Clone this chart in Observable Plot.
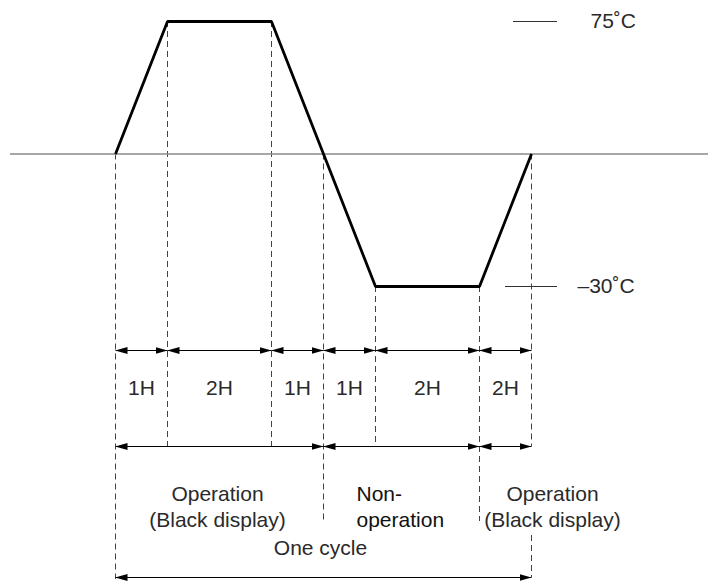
<!DOCTYPE html>
<html><head><meta charset="utf-8">
<script src="https://cdn.jsdelivr.net/npm/d3@7"></script>
<script src="https://cdn.jsdelivr.net/npm/@observablehq/plot@0.6"></script>
<style>body{margin:0;background:#fff} #chart svg{display:block;background:#fff}</style>
</head><body><div id="chart"></div>
<script>
// ---- data ----
const hours = [0, 1, 3, 4, 5, 7, 8];          // break points of the profile (as drawn)
const temps = [0, 75, 75, 0, -30, -30, 0];    // temperature at each break point (°C)
const stepLabels = ["1H", "2H", "1H", "1H", "2H", "2H"];
const phaseStart = [0, 4, 7];
const phaseEnd = [4, 7, 8];
const phaseLabels = ["Operation\n(Black display)", "Non-\noperation", "Operation\n(Black display)"];
const cycleLabel = "One cycle";
const levelTemps = [75, -30];
const levelLabels = ["75˚C", "–30˚C"];

// ---- layout ----
const W = 708, H = 581;
const tMax = 75, tMin = -30;                      // schematic: each side drawn at the same height
const toLevel = t => t < 0 ? -t / tMin : t / tMax;
const fromLevel = u => u < 0 ? -u * tMin : u * tMax;
const xDomain = [0, 8], xRange = [115, 531];
const yDomain = [-1, 1], yRange = [286, 21];
const xs = d3.scaleLinear(xDomain, xRange);
const ys = d3.scaleLinear(yDomain, yRange);
const atX = px => xs.invert(px);
const atY = px => fromLevel(ys.invert(px));

const rowStep = atY(350), stepText = atY(388), rowPhase = atY(446), phaseText = atY(505),
      phaseDashEnd = atY(521), cycleText = atY(548), rowCycle = atY(577), bottom = atY(579);

const dashEnds = [bottom, rowPhase, rowPhase, phaseDashEnd, rowPhase, phaseDashEnd, rowPhase];
const dashes = hours.map((h, i) => ({x: h, y1: temps[i], y2: dashEnds[i]}));
dashes.push({x: hours[hours.length - 1], y1: atY(535), y2: atY(577)});

const profile = hours.map((h, i) => ({h, t: temps[i]}));
const steps = stepLabels.map((s, i) => ({x1: hours[i], x2: hours[i + 1], label: s}));
const phases = phaseLabels.map((s, i) => ({x1: phaseStart[i], x2: phaseEnd[i], label: s}));
const cycle = [{x1: hours[0], x2: hours[hours.length - 1], label: cycleLabel}];
const levels = levelTemps.map((t, i) => ({t, label: levelLabels[i]}));
const levelLine = [[atX(513), atX(557)], [atX(505), atX(557)]];
const levelText = [atX(590), atX(577)];

function filledArrow(color, context) {
  const m = d3.create("svg:marker")
    .attr("viewBox", "-12 -4 12 8")
    .attr("markerWidth", 12).attr("markerHeight", 8)
    .attr("markerUnits", "userSpaceOnUse")
    .attr("orient", "auto-start-reverse")
    .attr("fill", color).attr("stroke", "none");
  m.append("path").attr("d", "M0,0L-12,-3.5L-12,3.5Z");
  return m.node();
}

const font = "'Liberation Sans', Arial, Helvetica, sans-serif";
const txt = "#2a2a2a";
const fs = 21;

const chart = Plot.plot({
  width: W, height: H,
  marginTop: 0, marginBottom: 0, marginRight: 0, marginLeft: 10,
  style: {fontFamily: font, background: "#fff"},
  x: {domain: xDomain, range: xRange, axis: null},
  y: {transform: toLevel, domain: yDomain, range: yRange, axis: null},
  marks: [
    Plot.ruleX(dashes, {x: "x", y1: "y1", y2: "y2", stroke: "#444", strokeWidth: 1, strokeDasharray: "6,4"}),
    Plot.ruleY([0], {stroke: "#8a8a8a", strokeWidth: 1.6}),
    Plot.ruleY(levels, {y: "t", x1: (d, i) => levelLine[i][0], x2: (d, i) => levelLine[i][1], stroke: "#333", strokeWidth: 1}),
    Plot.text(levels, {y: "t", x: (d, i) => levelText[i], text: "label", textAnchor: "start", fontSize: fs, fill: txt}),
    Plot.line(profile, {x: "h", y: "t", stroke: "#000", strokeWidth: 2.8, strokeLinejoin: "miter", strokeLinecap: "butt"}),
    Plot.link(steps, {x1: "x1", x2: "x2", y1: () => rowStep, y2: () => rowStep, stroke: "#000", strokeWidth: 1, markerStart: filledArrow, markerEnd: filledArrow}),
    Plot.text(steps, {x: d => (d.x1 + d.x2) / 2, y: () => stepText, text: "label", fontSize: fs, fill: txt}),
    Plot.link(phases, {x1: "x1", x2: "x2", y1: () => rowPhase, y2: () => rowPhase, stroke: "#000", strokeWidth: 1, markerStart: filledArrow, markerEnd: filledArrow}),
    Plot.text(phases.filter((d, i) => i === 0), {x: d => (d.x1 + d.x2) / 2, y: () => phaseText, text: "label", dx: -2, fontSize: fs, lineHeight: 1.24, fill: txt}),
    Plot.text(phases.filter((d, i) => i === 1), {x: "x1", y: () => phaseText, text: "label", dx: 33, textAnchor: "start", fontSize: fs, lineHeight: 1.24, fill: "#111"}),
    Plot.text(phases.filter((d, i) => i === 2), {x: d => (d.x1 + d.x2) / 2, y: () => phaseText, text: "label", dx: 47, fontSize: fs, lineHeight: 1.24, fill: txt}),
    Plot.text(cycle, {x: d => (d.x1 + d.x2) / 2, y: () => cycleText, text: "label", dx: -3, fontSize: fs, fill: txt}),
    Plot.link(cycle, {x1: "x1", x2: "x2", y1: () => rowCycle, y2: () => rowCycle, stroke: "#000", strokeWidth: 1, markerStart: filledArrow, markerEnd: filledArrow})
  ]
});
document.getElementById("chart").appendChild(chart);
</script>
</body></html>
